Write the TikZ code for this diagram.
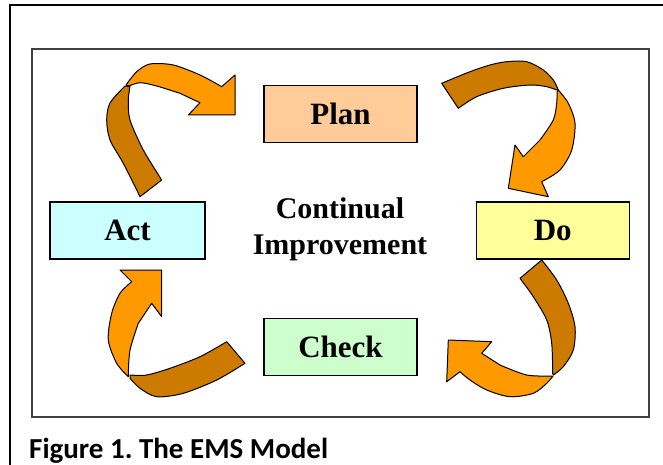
\documentclass[tikz,border=0pt]{standalone}
\usepackage{fontspec}
\setmainfont{Liberation Serif}
\newfontfamily\capfont{Carlito}
\frenchspacing
\definecolor{planfill}{HTML}{FFCC99}
\definecolor{actfill}{HTML}{CCFFFF}
\definecolor{dofill}{HTML}{FFFF99}
\definecolor{checkfill}{HTML}{CCFFCC}
\definecolor{bandback}{HTML}{CC7A00}
\definecolor{bandfront}{HTML}{FF9900}
\tikzset{stage/.style={draw=black, line width=1.2pt, minimum width=153pt, minimum height=57pt, inner sep=0pt, font=\bfseries\fontsize{31}{36}\selectfont},
	backband/.style={fill=bandback, draw=black, line width=1pt, line join=round},
	frontband/.style={fill=bandfront, draw=black, line width=1pt, line join=round}}

\begin{document}
\begin{tikzpicture}[x=1pt,y=-1pt]
	\useasboundingbox[fill=white] (0,0) rectangle (663,465);
	\draw[line width=2pt] (670,5) -- (9.5,5) -- (9.5,470);
	\draw[line width=1.5pt, draw=black!75] (32,49) rectangle (649,417);

	\node[stage, fill=planfill] (plan) at (340.5,114) {Plan};
	\node[stage, fill=actfill, minimum width=155pt] (act) at (127.5,230.5) {Act};
	\node[stage, fill=dofill] (do) at (552.7,230.5) {Do};
	\node[stage, fill=checkfill] (check) at (340.5,347) {Check};
	\node[align=center, font=\bfseries\fontsize{30}{36}\selectfont] (ci) at (340,229) {Continual\\Improvement};

	\draw[backband] plot[smooth] coordinates {(125,86) (110,103) (106.7,120) (110,140) (123.3,163.3) (140,196.7)}
		-- plot[smooth] coordinates {(161.7,180) (143.3,150) (130,120) (128.3,100) (130,86.7)} -- cycle;
	\draw[frontband] plot[smooth] coordinates {(126,85) (136.7,71.7) (150,64) (173.3,65) (200,75) (221.7,86.7)}
		-- (235,75) -- (235,115) -- (188.3,115) -- (200,102.7)
		-- plot[smooth] coordinates {(180,93.3) (156.7,86) (140,82.7) (129,86)} -- cycle;

	\draw[backband] plot[smooth] coordinates {(441.7,83.3) (470,71.7) (490,65) (506.7,61.7) (526.7,61.7) (543.3,70) (553.3,80) (558.3,90)}
		-- plot[smooth] coordinates {(556.7,90) (546.7,86.7) (530,85) (503.3,88.3) (476.7,96.7) (458.3,108.3)} -- cycle;
	\draw[frontband] plot[smooth] coordinates {(558.3,90) (568.3,103.3) (575,123.3) (571.7,150) (560,170) (541.7,181.7)}
		-- (548.3,196.7) -- (508.3,188.3) -- (515,145) -- (523.3,156.7)
		-- plot[smooth] coordinates {(540,140) (553.3,120) (556.7,103.3) (557,92)} -- cycle;

	\draw[backband] plot[smooth] coordinates {(541.7,260) (556.7,280) (568.3,303.3) (575,326.7) (573.3,350) (563.3,366.7) (553.3,375)}
		-- plot[smooth] coordinates {(552.7,373.3) (551.7,343.3) (546.7,320) (533.3,296.7) (520,278.3)} -- cycle;
	\draw[frontband] plot[smooth] coordinates {(553,376) (546.7,383.3) (533.3,393.3) (510,396.7) (486.7,390) (470,380) (460,371.7)}
		-- (446.7,381.7) -- (448.3,340) -- (491.7,341.7) -- (481.7,353.3)
		-- plot[smooth] coordinates {(500,365) (526.7,375) (551.7,376)} -- cycle;

	\draw[backband] plot[smooth] coordinates {(226.7,341.7) (200,356.7) (170,368.3) (146.7,375) (130,375)}
		-- plot[smooth] coordinates {(130,378.3) (140,388.3) (156.7,396.7) (183.3,393.3) (216.7,380) (245,363.3)} -- cycle;
	\draw[frontband] plot[smooth] coordinates {(128.3,376.7) (116.7,363.3) (108.3,340) (111.7,313.3) (120,293.3) (131.7,281.7)}
		-- (120,270) -- (161.7,270) -- (161.7,316.7) -- (151.7,303.3)
		-- plot[smooth] coordinates {(138.3,323.3) (130,350) (128.3,375)} -- cycle;

	\node[anchor=base west, inner sep=0pt, font=\capfont\bfseries\fontsize{29}{34}\selectfont] (caption) at (29,458) {Figure 1. The EMS Model};
\end{tikzpicture}
\end{document}
